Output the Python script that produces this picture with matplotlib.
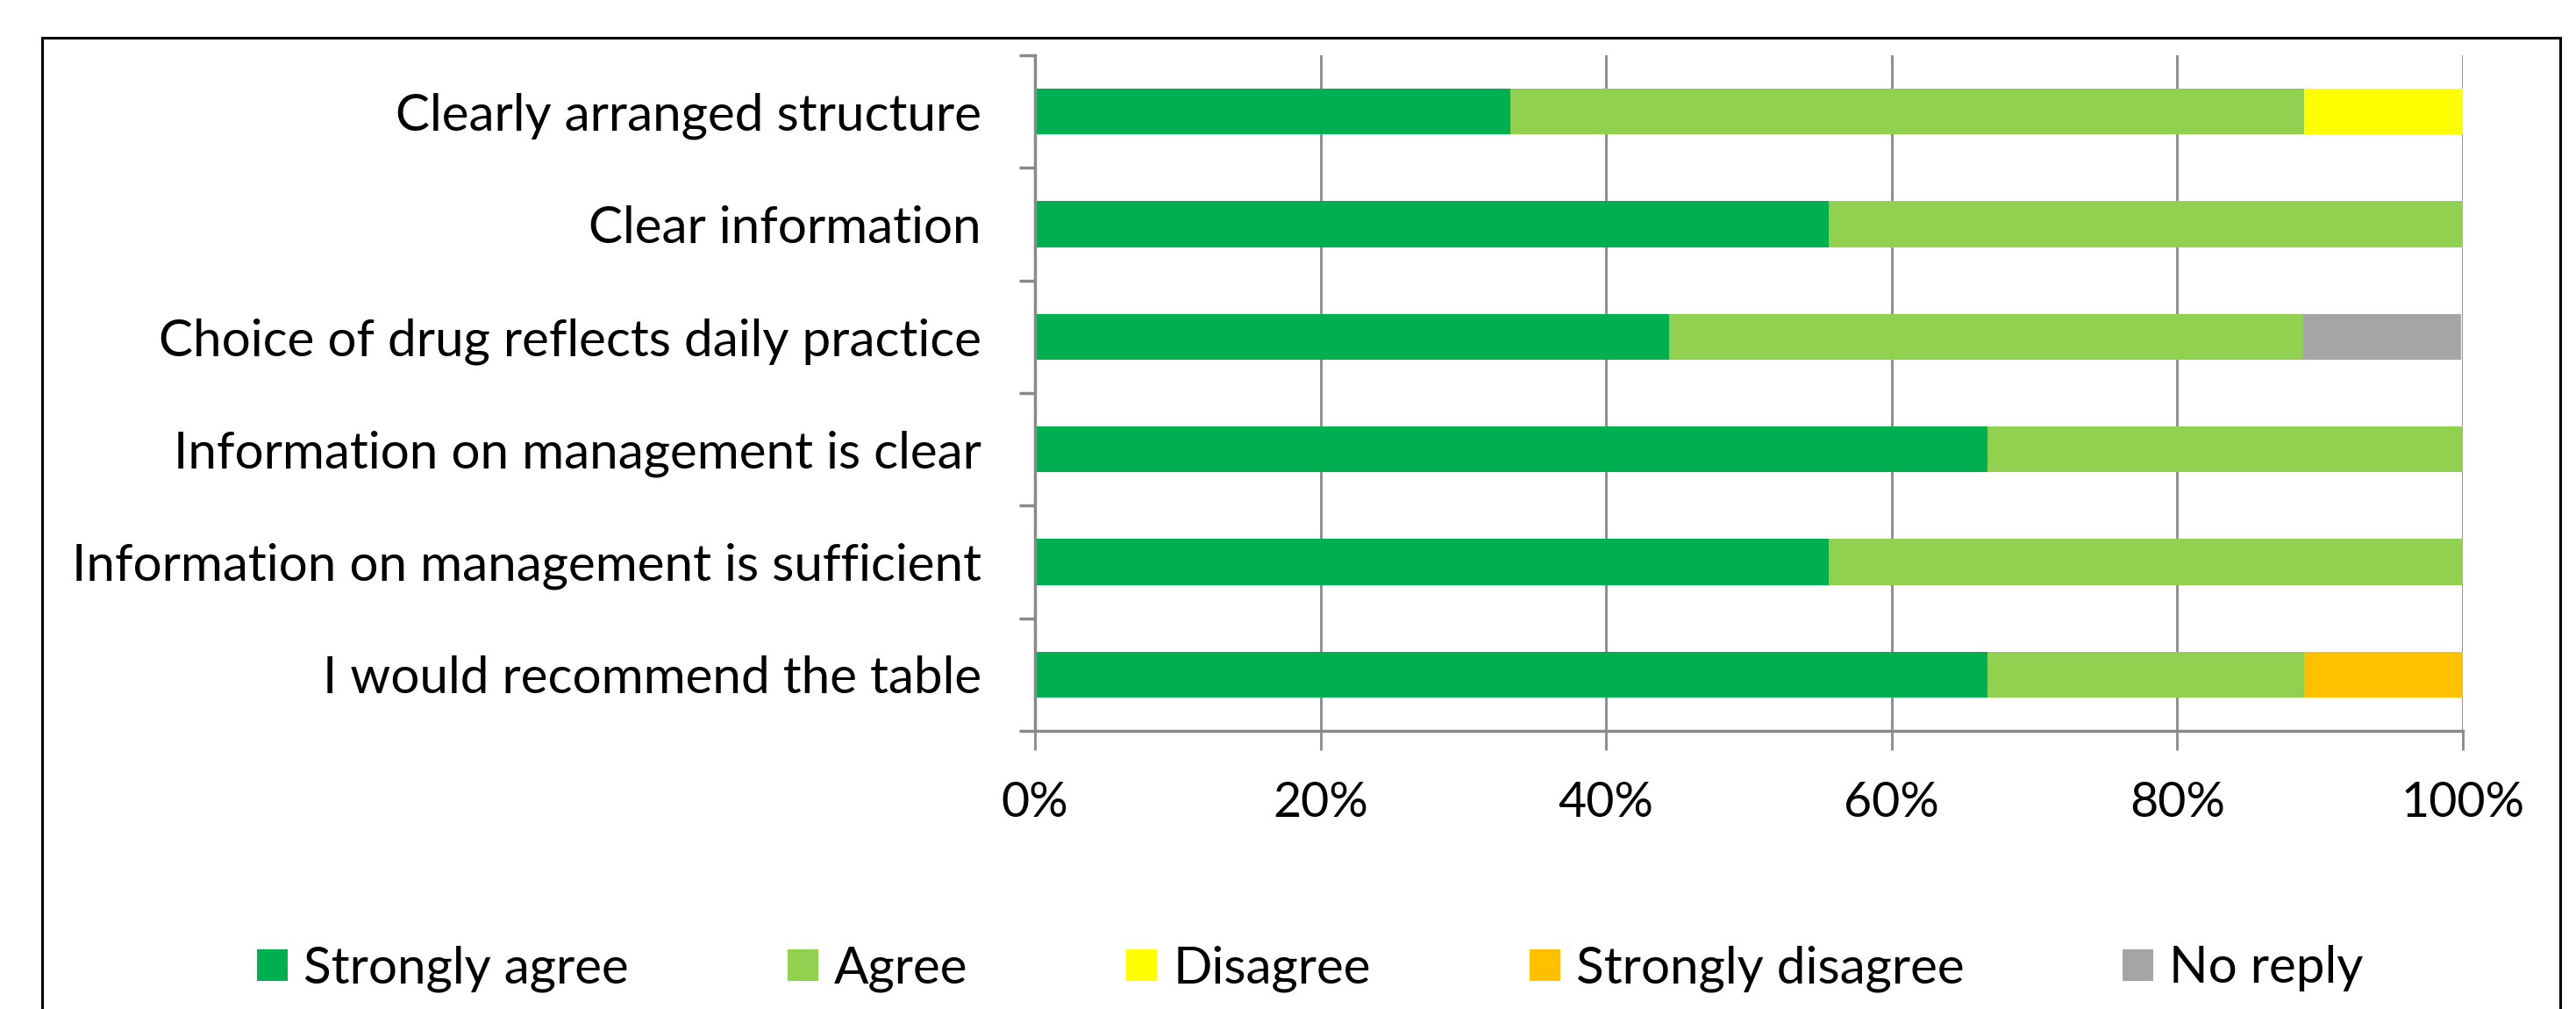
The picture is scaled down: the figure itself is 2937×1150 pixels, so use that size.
import matplotlib
matplotlib.use('Agg')
import matplotlib.pyplot as plt
import numpy as np
from matplotlib.patches import Rectangle, Patch

# survey answers, share of respondents in percent
questions = ['Clearly arranged structure',
             'Clear information',
             'Choice of drug reflects daily practice',
             'Information on management is clear',
             'Information on management is sufficient',
             'I would recommend the table']
answers = ['Strongly agree', 'Agree', 'Disagree', 'Strongly disagree', 'No reply']
strongly_agree = [33.3, 55.6, 44.4, 66.7, 55.6, 66.7]
agree = [55.6, 44.4, 44.4, 33.3, 44.4, 22.2]
disagree = [11.1, 0, 0, 0, 0, 0]
strongly_disagree = [0, 0, 0, 0, 0, 11.1]
no_reply = [0, 0, 11.1, 0, 0, 0]
xticks = [0, 20, 40, 60, 80, 100]

colors = ['#00B050', '#92D050', '#FFFF00', '#FFC000', '#A5A5A5']
grid_col = '#898989'

plt.rcParams['font.family'] = ['Lato', 'DejaVu Sans']
fs = 42

fig = plt.figure(figsize=(29.37, 11.5), dpi=100)
ax = fig.add_axes([1180 / 2937, 1 - 833 / 1150, (2808 - 1180) / 2937, (833 - 63) / 1150])

series = [strongly_agree, agree, disagree, strongly_disagree, no_reply]
y = np.arange(len(questions))
left = np.zeros(len(questions))
for vals, col, name in zip(series, colors, answers):
    vals = np.array(vals)
    ax.barh(y, vals, left=left, height=0.41, color=col, label=name, zorder=2)
    left += vals

ax.set_xlim(0, 100)
ax.set_ylim(len(questions) - 0.5, -0.5)

ax.set_xticks(xticks)
ax.set_xticklabels(['{}%'.format(t) for t in xticks], fontsize=40)
ax.tick_params(axis='x', length=16, width=2, color=grid_col, pad=25)
ax.xaxis.grid(True, color=grid_col, linewidth=2, zorder=0)

ax.set_yticks(np.arange(len(questions) + 1) - 0.5)
ax.set_yticklabels([])
ax.tick_params(axis='y', which='major', length=13, width=2.5, color=grid_col)
ax.set_yticks(y, minor=True)
ax.set_yticklabels(questions, minor=True, fontsize=fs)
ax.tick_params(axis='y', which='minor', length=0, pad=44)

for s in ['top', 'right']:
    ax.spines[s].set_visible(False)
for s in ['left', 'bottom']:
    ax.spines[s].set_color(grid_col)
    ax.spines[s].set_linewidth(2.5)

# chart frame (bottom edge is cut off in the original)
fig.patches.append(Rectangle((48 / 2937, -0.05), (2919 - 48) / 2937, 1.05 - 43 / 1150,
                             transform=fig.transFigure, fill=False, edgecolor='black',
                             linewidth=2.2))

handles = [Patch(facecolor=c, edgecolor='none') for c in colors]
fig.legend(handles, answers, loc='center', bbox_to_anchor=(0.5087, 1 - 1104 / 1150),
           ncol=5, frameon=False, fontsize=fs, handlelength=0.6, handleheight=0.58,
           handletextpad=0.31, columnspacing=3.1)

fig.savefig('out.png', dpi=100)
